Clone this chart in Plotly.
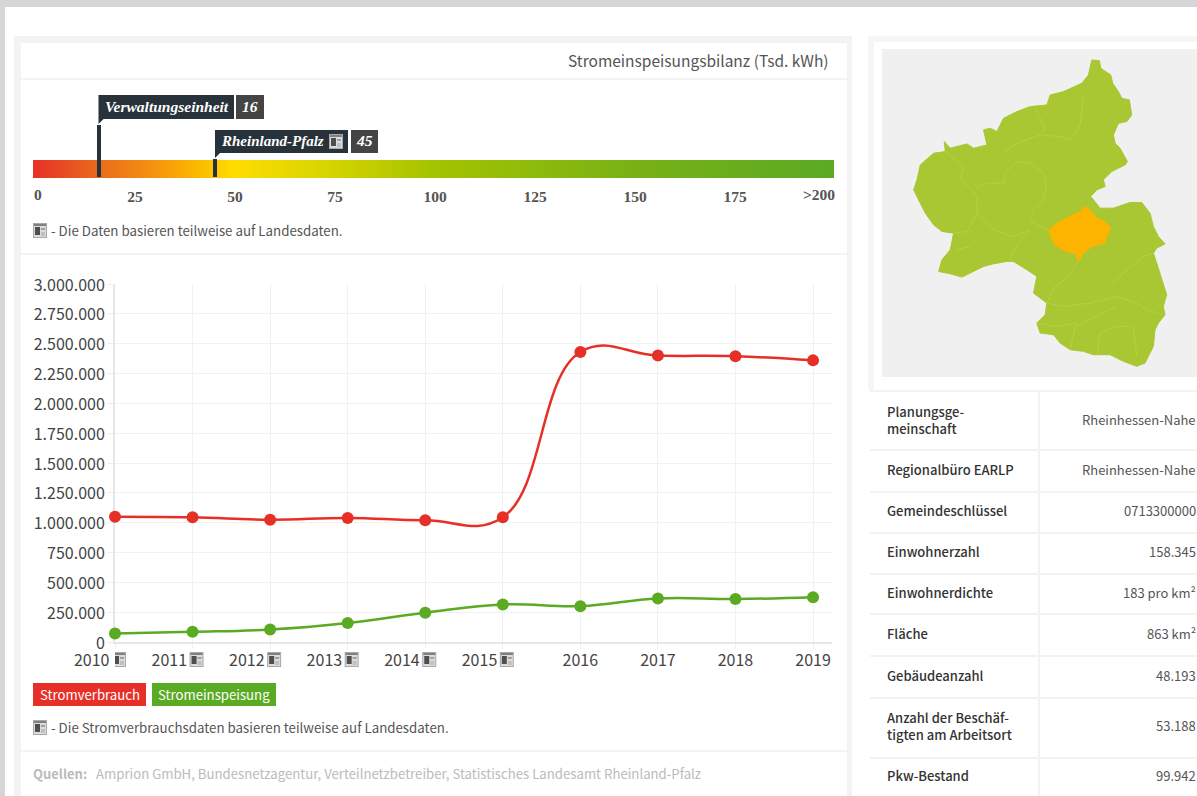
import plotly.graph_objects as go

W, H = 1197, 796
SANS = "Noto Sans CJK JP"
SERIF = "Liberation Serif"

# ---------- chart data ----------
years = [2010, 2011, 2012, 2013, 2014, 2015, 2016, 2017, 2018, 2019]
stromverbrauch = [1050000, 1045000, 1025000, 1040000, 1020000, 1045000, 2430000, 2400000, 2395000, 2360000]
stromeinspeisung = [72000, 85000, 105000, 160000, 245000, 315000, 300000, 365000, 360000, 375000]
years_with_icon = [2010, 2011, 2012, 2013, 2014, 2015]
y_tick_step = 250000

scale_ticks = [25, 50, 75, 100, 125, 150, 175]
scale_values = [-0.5, 199.75]
scale_colors = [[0, "#e63027"], [0.08, "#ea6a1c"], [0.15, "#f5920f"], [0.2, "#fbb500"], [0.25, "#ffdd00"],
                [0.37, "#d6d400"], [0.5, "#a3c300"], [0.62, "#8fbb0a"], [0.75, "#78b116"], [1, "#5aaa24"]]
marker_values = [16, 45]
marker_names = ["Verwaltungseinheit", "Rheinland-Pfalz"]

table_labels = ["Planungsge-<br>meinschaft", "Regionalbüro EARLP", "Gemeindeschlüssel", "Einwohnerzahl",
                "Einwohnerdichte", "Fläche", "Gebäudeanzahl", "Anzahl der Beschäf-<br>tigten am Arbeitsort", "Pkw-Bestand"]
table_values = ["Rheinhessen-Nahe", "Rheinhessen-Nahe", "0713300000", "158.345", "183 pro km²", "863 km²",
                "48.193", "53.188", "99.942"]

# map (units: 3 per screen pixel inside the map panel)
map_x = [665,688,692,722,728,745,755,778,785,770,745,730,735,750,772,765,745,725,700,705,680,662,690,730,780,815,840,850,865,885,860,850,860,875,890,880,885,865,855,850,825,800,760,720,670,640,600,570,550,510,500,525,530,490,500,470,430,410,370,340,275,240,205,215,240,250,215,190,165,150,130,140,150,190,225,222,240,290,310,350,340,360,380,400,440,480,530,540,580,635,655,665]
map_y = [60,62,85,105,130,155,175,180,225,245,250,285,310,325,365,375,385,395,420,440,450,470,505,505,488,488,520,560,590,612,625,640,670,720,765,800,825,850,870,920,970,980,965,945,945,935,930,910,885,880,850,825,790,760,710,690,665,665,672,680,712,702,695,660,630,580,575,555,520,490,450,420,375,340,335,305,325,312,325,315,270,265,275,235,215,200,195,165,155,130,105,60]
area_x = [645,665,680,705,722,710,705,665,640,625,615,585,555,545,535,570,600,630,645]
area_y = [500,515,535,545,565,590,610,620,640,665,640,635,615,600,570,545,530,515,500]
border_x = [320,355,400,405,440,480,520,530,520,490,480,535,None,400,440,510,525,495,None,510,570,600,630,640,None,
            225,280,270,300,320,320,370,430,480,None,420,430,480,None,625,590,550,530,580,660,740,800,830,880,None,
            720,760,820,850,None,600,615,680,740,None,500,560,620,None,680,690,740,790,800,None,250,290,320,None,300,255]
border_y = [440,430,430,400,365,370,400,440,480,510,545,570,None,340,310,285,265,205,None,285,290,300,255,170,None,
            335,380,420,445,470,520,570,590,570,None,660,630,570,None,665,715,745,790,800,790,770,790,810,825,None,
            740,700,650,640,None,930,860,830,800,None,850,860,850,None,945,880,860,860,950,None,580,575,520,None,620,630]

# ---------- helpers (screen pixel -> paper) ----------
px = lambda x: x / W
py = lambda y: 1 - y / H
shapes, annots = [], []


def rect(x0, y0, x1, y1, fill, layer="below", xref="paper", xanchor=None):
    s = dict(type="rect", xref=xref, yref="paper", y0=py(y0), y1=py(y1), fillcolor=fill, line=dict(width=0), layer=layer)
    if xanchor is None:
        s.update(x0=px(x0), x1=px(x1))
    else:
        s.update(xsizemode="pixel", xanchor=xanchor, x0=x0, x1=x1)
    shapes.append(s)


def text(x, y, s, size=14, color="#555555", anchor="left", family=SANS, weight=None, italic=False):
    dx = {"left": -1, "right": 2, "center": 0}[anchor]
    annots.append(dict(xref="paper", yref="paper", x=px(x + dx), y=py(y - 0.5), text=s, showarrow=False, xanchor=anchor,
                       yanchor="middle", align=anchor, borderpad=0,
                       font=dict(size=size, color=color, family=family, weight=weight,
                                 style="italic" if italic else "normal")))


def icon(x, y, xanchor=None, xref="paper"):
    kw = dict(xref=xref, xanchor=xanchor, layer="above")
    rect(x, y, x + 14, y + 15, "#a8a8a8", **kw)
    rect(x + 1, y + 1, x + 13, y + 14, "#dcdcdc", **kw)
    rect(x + 1, y + 1, x + 13, y + 3, "#808080", **kw)
    rect(x + 2, y + 4, x + 7, y + 12, "#4e4e4e", **kw)
    rect(x + 8, y + 5, x + 12, y + 7, "#a0a0a0", **kw)
    rect(x + 8, y + 9, x + 12, y + 13, "#c0c0c0", **kw)


# ---------- page furniture ----------
rect(0, 0, W, 7, "#d4d6d8")
rect(0, 0, 5, H, "#d4d6d8")
rect(14, 36, 852, H, "#f3f3f3")
rect(21, 43, 847, H, "#ffffff")
for y in (78, 253, 750):
    rect(21, y, 847, y + 2, "#f4f4f4")
rect(868, 36, W, 42, "#f6f6f6")
rect(868, 36, 874, 390, "#f6f6f6")
rect(882, 49, W, 377, "#f0f0f0")
for y in (390, 449, 491, 532, 573, 613, 655, 697, 757):
    rect(870, y, W, y + 2, "#f3f3f3")
rect(1038, 390, 1040, H, "#f3f3f3")

text(828, 61, "Stromeinspeisungsbilanz (Tsd. kWh)", size=15.5, color="#555555", anchor="right")

# scale markers
label_boxes = [(98.5, 95, 234, 119, 236, 264), (215, 130, 348, 153, 351, 378)]
marker_tops = [125, 159]
marker_label_x = [105, 221]
marker_label_sizes = [15.5, 15]
for name, val, top, box, lx, ls in zip(marker_names, marker_values, marker_tops, label_boxes, marker_label_x, marker_label_sizes):
    x0, y0, x1, y1, vx0, vx1 = box
    rect(x0, y0, x1, y1, "#28323a", layer="above")
    rect(vx0, y0, vx1, y1, "#444444", layer="above")
    shapes.append(dict(type="path", xref="paper", yref="paper", layer="above", fillcolor="#28323a", line=dict(width=0),
                       path=f"M {px(x0)},{py(y1)} L {px(x0 + 5)},{py(y1)} L {px(x0)},{py(y1 + 5)} Z"))
    shapes.append(dict(type="line", xref="x3", yref="paper", layer="above", x0=val, x1=val, y0=py(top), y1=py(177),
                       line=dict(color="#28323a", width=4)))
    text(lx, (y0 + y1) / 2, name, size=ls, color="#ffffff", family=SERIF, weight=700, italic=True)
    text((vx0 + vx1) / 2, (y0 + y1) / 2, str(val), size=15.5, color="#ffffff", anchor="center", family=SERIF, weight=700, italic=True)
icon(329, 134)

text(38, 195, "0", size=15.5, color="#555555", anchor="center", family=SERIF, weight=700)
text(834, 195, ">200", size=15.5, color="#555555", anchor="right", family=SERIF, weight=700)

icon(33, 223)
text(51, 231, "- Die Daten basieren teilweise auf Landesdaten.", size=13.3)

# legend buttons
rect(33, 683, 146, 706, "#e63027")
rect(152, 683, 276, 706, "#5aaa24")
text(89.5, 694.5, "Stromverbrauch", size=13.2, color="#ffffff", anchor="center")
text(214, 694.5, "Stromeinspeisung", size=13.2, color="#ffffff", anchor="center")

icon(33, 720)
text(51, 728, "- Die Stromverbrauchsdaten basieren teilweise auf Landesdaten.", size=13.3)
text(33, 774, "Quellen:", size=13, color="#bbbbbb", weight=700)
text(96, 774, "Amprion GmbH, Bundesnetzagentur, Verteilnetzbetreiber, Statistisches Landesamt Rheinland-Pfalz",
     size=13.2, color="#bbbbbb")

# info table
row_y = [420, 470, 511, 552, 593, 634, 676, 726, 776]
for label, value, y in zip(table_labels, table_values, row_y):
    text(887, y, label, size=13, color="#333333", weight=500)
    text(1195, y, value, size=13, color="#555555", anchor="right")

# x tick icons, anchored to the data axis
for yr in years_with_icon:
    icon(-3, 652, xanchor=yr, xref="x")

# ---------- traces ----------
fig = go.Figure()
fig.add_trace(go.Scatter(x=years, y=stromverbrauch, name="Stromverbrauch", mode="lines+markers", cliponaxis=False,
                         line=dict(color="#e63027", width=2.5, shape="spline", smoothing=1.2),
                         marker=dict(color="#e63027", size=12)))
fig.add_trace(go.Scatter(x=years, y=stromeinspeisung, name="Stromeinspeisung", mode="lines+markers", cliponaxis=False,
                         line=dict(color="#5aaa24", width=2.5, shape="spline", smoothing=1.2),
                         marker=dict(color="#5aaa24", size=12)))
fig.add_trace(go.Scatter(x=map_x, y=map_y, xaxis="x2", yaxis="y2", mode="lines", fill="toself", fillcolor="#a9c732",
                         line=dict(color="#a9c732", width=1)))
fig.add_trace(go.Scatter(x=border_x, y=border_y, xaxis="x2", yaxis="y2", mode="lines",
                         line=dict(color="#b5d044", width=1)))
fig.add_trace(go.Scatter(x=area_x, y=area_y, xaxis="x2", yaxis="y2", mode="lines", fill="toself", fillcolor="#fdb400",
                         line=dict(color="#fdb400", width=1)))
fig.add_trace(go.Heatmap(x=scale_values, y=[0, 1], z=[scale_values, scale_values], xaxis="x3", yaxis="y3",
                         colorscale=scale_colors, showscale=False, zsmooth="best", hoverinfo="skip"))

tick_font = dict(size=16, color="#444444", family=SANS)
fig.update_layout(
    template="none",
    width=W, height=H, margin=dict(l=0, r=0, t=0, b=0, pad=0, autoexpand=False), paper_bgcolor="#ffffff", plot_bgcolor="rgba(0,0,0,0)",
    showlegend=False, hovermode=False, separators=",.", shapes=shapes, annotations=annots,
    xaxis=dict(domain=[px(115), px(832)], range=[2010, 2010 + 717 / 77.56], tickvals=years,
               ticktext=[f"{y}" + "\u00a0" * 13 if y in years_with_icon else str(y) for y in years], tickangle=0,
               tickfont=tick_font, showgrid=True, gridcolor="#f1f1f1", ticks="outside", ticklen=5, tickcolor="#eeeeee",
               showline=True, linecolor="#e6e6ea", linewidth=2, zeroline=False, automargin=False,
               layer="below traces", ticklabelstandoff=-2),
    yaxis=dict(domain=[py(642), py(284)], range=[0, 3000000], dtick=y_tick_step, tickformat=",d",
               tickfont=tick_font, showgrid=True, gridcolor="#f1f1f1", ticks="outside", ticklen=5, tickcolor="#eeeeee",
               showline=True, linecolor="#e6e6ea", linewidth=2, zeroline=False, automargin=False,
               layer="below traces", ticklabelshift=1),
    xaxis2=dict(domain=[px(882), 1], range=[35, 981], visible=False, anchor="y2"),
    yaxis2=dict(domain=[py(377), py(49)], range=[1012, 27], visible=False, anchor="x2"),
    xaxis3=dict(domain=[px(33), px(834)], range=scale_values, tickvals=scale_ticks, ticktext=[str(v) for v in scale_ticks],
                tickfont=dict(size=15.5, color="#555555", family=SERIF, weight=700), ticks="", showgrid=False,
                zeroline=False, anchor="y3", ticklabelstandoff=7, automargin=False),
    yaxis3=dict(domain=[py(178), py(160)], range=[0, 1], visible=False, anchor="x3"),
)

fig.write_html("out.html", config=dict(displayModeBar=False),
               post_script="document.body.style.margin='0';document.documentElement.style.overflow='hidden';")
